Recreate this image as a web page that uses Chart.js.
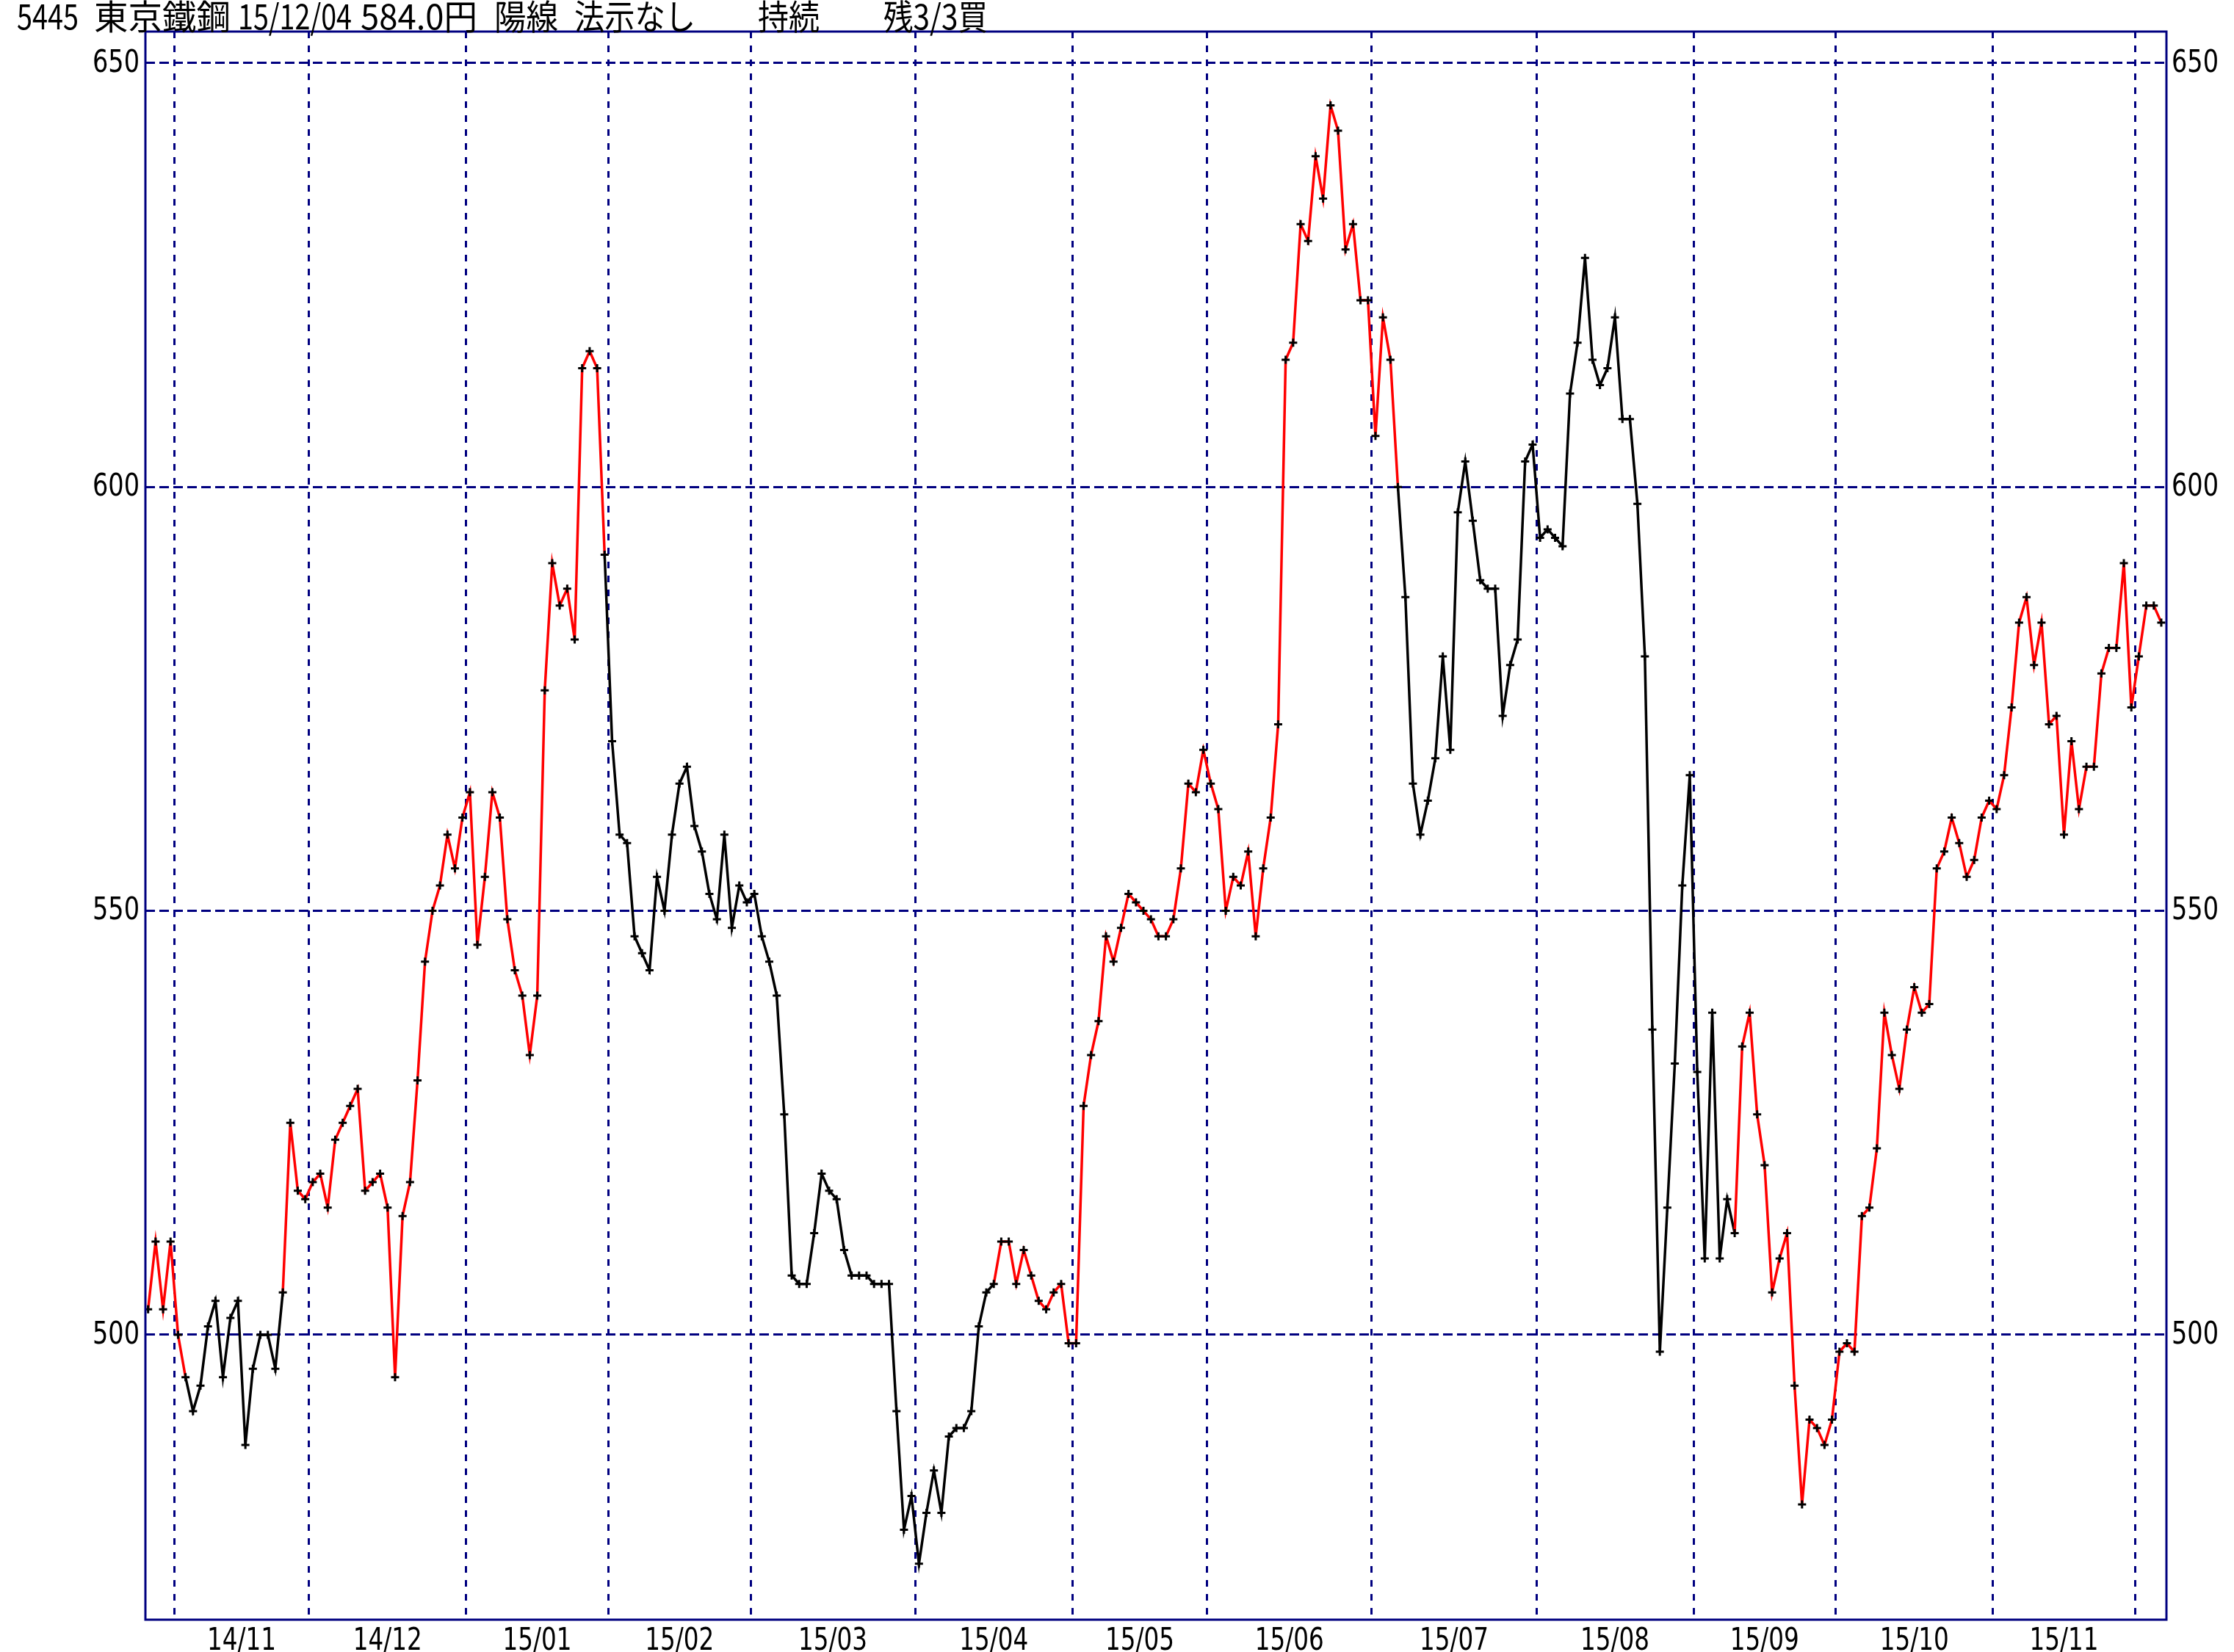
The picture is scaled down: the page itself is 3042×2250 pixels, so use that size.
<!DOCTYPE html>
<html><head><meta charset="utf-8">
<script src="https://cdn.jsdelivr.net/npm/chart.js@4.4.0/dist/chart.umd.min.js"></script>
<style>html,body{margin:0;padding:0;background:#fff;}canvas{display:block;}</style>
</head><body>
<canvas id="c" width="3042" height="2250"></canvas>
<script>
// ---- data ----
const titleParts = ['5445', '東京鐵鋼', '15/12/04', '584.0円', '陽線', '法示なし', '持続', '残3/3買'];
const monthLabels = ['14/11','14/12','15/01','15/02','15/03','15/04','15/05','15/06','15/07','15/08','15/09','15/10','15/11'];
// trading days per month: 14/10(part), 14/11 ... 15/11, 15/12(part)
const monthDays = [4,18,21,19,19,22,21,18,22,22,21,19,21,19,4];
const yTicks = [500, 550, 600, 650];
const closes = [
 503,511,503,511,500,495,491,494,501,504,495,502,504,487,496,500,500,496,505,525,
 517,516,518,519,515,523,525,527,529,517,518,519,515,495,514,518,530,544,550,553,
 559,555,561,564,546,554,564,561,549,543,540,533,540,576,591,586,588,582,614,616,
 614,592,570,559,558,547,545,543,554,550,559,565,567,560,557,552,549,559,548,553,
 551,552,547,544,540,526,507,506,506,512,519,517,516,510,507,507,507,506,506,506,
 491,477,481,473,479,484,479,488,489,489,491,501,505,506,511,511,506,510,507,504,
 503,505,506,499,499,527,533,537,547,544,548,552,551,550,549,547,547,549,555,565,
 564,569,565,562,550,554,553,557,547,555,561,572,615,617,631,629,639,634,645,642,
 628,631,622,622,606,620,615,600,587,565,559,563,568,580,569,597,603,596,589,588,
 588,573,579,582,603,605,594,595,594,593,611,617,627,615,612,614,620,608,608,598,
 580,536,498,515,532,553,566,531,509,538,509,516,512,534,538,526,520,505,509,512,
 494,480,490,489,487,490,498,499,498,514,515,522,538,533,529,536,541,538,539,555,
 557,561,558,554,556,561,563,562,566,574,584,587,579,584,572,573,559,570,562,567,
 567,578,581,581,591,574,580,586,586,584
];
// segments starting at index in [a, b) are drawn red (rising state)
const redRuns = [[0,5],[18,61],[113,167],[212,269]];

// ---- derived ----
const bounds = [];
let cum = 0;
monthDays.forEach((d, i) => { cum += d; if (i < monthDays.length - 1) bounds.push(cum - 0.5); });
const labelPos = monthLabels.map((_, k) => (bounds[k] + bounds[k + 1]) / 2);
const isRed = i => redRuns.some(([a, b]) => i >= a && i < b);

const TFONT = "'Noto Sans CJK JP','DejaVu Sans',sans-serif";
const AFONT = "'DejaVu Sans','Noto Sans',sans-serif";
const NAVY = '#000080';
const XMIN = -0.36, XMAX = 269.69, YMIN = 466.4, YMAX = 653.7;

// layout of the header text segments (left x and fitted width)
const titleX = [23, 128, 324, 491, 673, 782, 1032, 1203];
const titleW = [84, 186, 155, 159, 87, 165, 84, 142];

const framePlugin = {
  id: 'frame',
  afterDraw(chart) {
    const {ctx, chartArea: a} = chart;
    ctx.save();
    ctx.strokeStyle = NAVY;
    ctx.lineWidth = 3;
    ctx.strokeRect(a.left, a.top, a.right - a.left, a.bottom - a.top);
    ctx.restore();
  }
};
const textPlugin = {
  id: 'texts',
  afterDraw(chart) {
    const ctx = chart.ctx, a = chart.chartArea;
    ctx.save();
    ctx.fillStyle = '#000';
    // header, each segment fitted to its width
    ctx.font = '47px ' + TFONT;
    ctx.textBaseline = 'alphabetic';
    ctx.textAlign = 'left';
    titleParts.forEach((t, i) => {
      const w = ctx.measureText(t).width;
      ctx.save();
      ctx.translate(titleX[i], 40);
      ctx.scale(titleW[i] / w, 1);
      ctx.fillText(t, 0, 0);
      ctx.restore();
    });
    // y tick labels, both sides
    ctx.font = '42px ' + AFONT;
    ctx.textBaseline = 'middle';
    const ys = chart.scales.y;
    yTicks.forEach(v => {
      const y = ys.getPixelForValue(v) + 1;
      ctx.textAlign = 'right';
      ctx.fillText(String(v), a.left - 8, y, 64);
      ctx.textAlign = 'left';
      ctx.fillText(String(v), a.right + 7, y, 64);
    });
    // month labels
    const xs = chart.scales.x;
    ctx.font = '43px ' + AFONT;
    ctx.textAlign = 'center';
    ctx.textBaseline = 'alphabetic';
    monthLabels.forEach((l, k) => ctx.fillText(l, xs.getPixelForValue(labelPos[k]), a.bottom + 41, 94));
    ctx.restore();
  }
};

new Chart(document.getElementById('c'), {
  type: 'line',
  data: {
    datasets: [{
      data: closes.map((v, i) => ({x: i, y: v})),
      borderColor: '#000',
      borderWidth: 3.5,
      tension: 0,
      pointStyle: 'cross',
      pointRadius: 5.5,
      pointBorderWidth: 3,
      pointBorderColor: '#000',
      pointBackgroundColor: '#000',
      segment: { borderColor: c => isRed(c.p0DataIndex) ? '#ff0000' : '#000000' }
    }]
  },
  options: {
    responsive: false,
    animation: false,
    devicePixelRatio: 1,
    layout: { padding: { top: 43, left: 0, right: 0, bottom: 0 } },
    plugins: { legend: { display: false }, tooltip: { enabled: false }, title: { display: false } },
    scales: {
      x: {
        type: 'linear', position: 'bottom', min: XMIN, max: XMAX,
        afterBuildTicks: a => { a.ticks = bounds.map(v => ({value: v})); },
        afterFit: a => { a.height = 44; },
        ticks: { display: false },
        grid: { color: NAVY, lineWidth: 3, drawTicks: false },
        border: { display: false, dash: [9, 10] }
      },
      y: {
        position: 'left', min: YMIN, max: YMAX,
        afterBuildTicks: a => { a.ticks = yTicks.map(v => ({value: v})); },
        afterFit: a => { a.width = 198; },
        ticks: { display: false },
        grid: { color: NAVY, lineWidth: 3, drawTicks: false },
        border: { display: false, dash: [13, 6] }
      },
      y2: {
        position: 'right', min: YMIN, max: YMAX,
        afterBuildTicks: a => { a.ticks = yTicks.map(v => ({value: v})); },
        afterFit: a => { a.width = 92; },
        ticks: { display: false },
        grid: { display: false, drawTicks: false },
        border: { display: false }
      }
    }
  },
  plugins: [framePlugin, textPlugin]
});
</script>
</body></html>
